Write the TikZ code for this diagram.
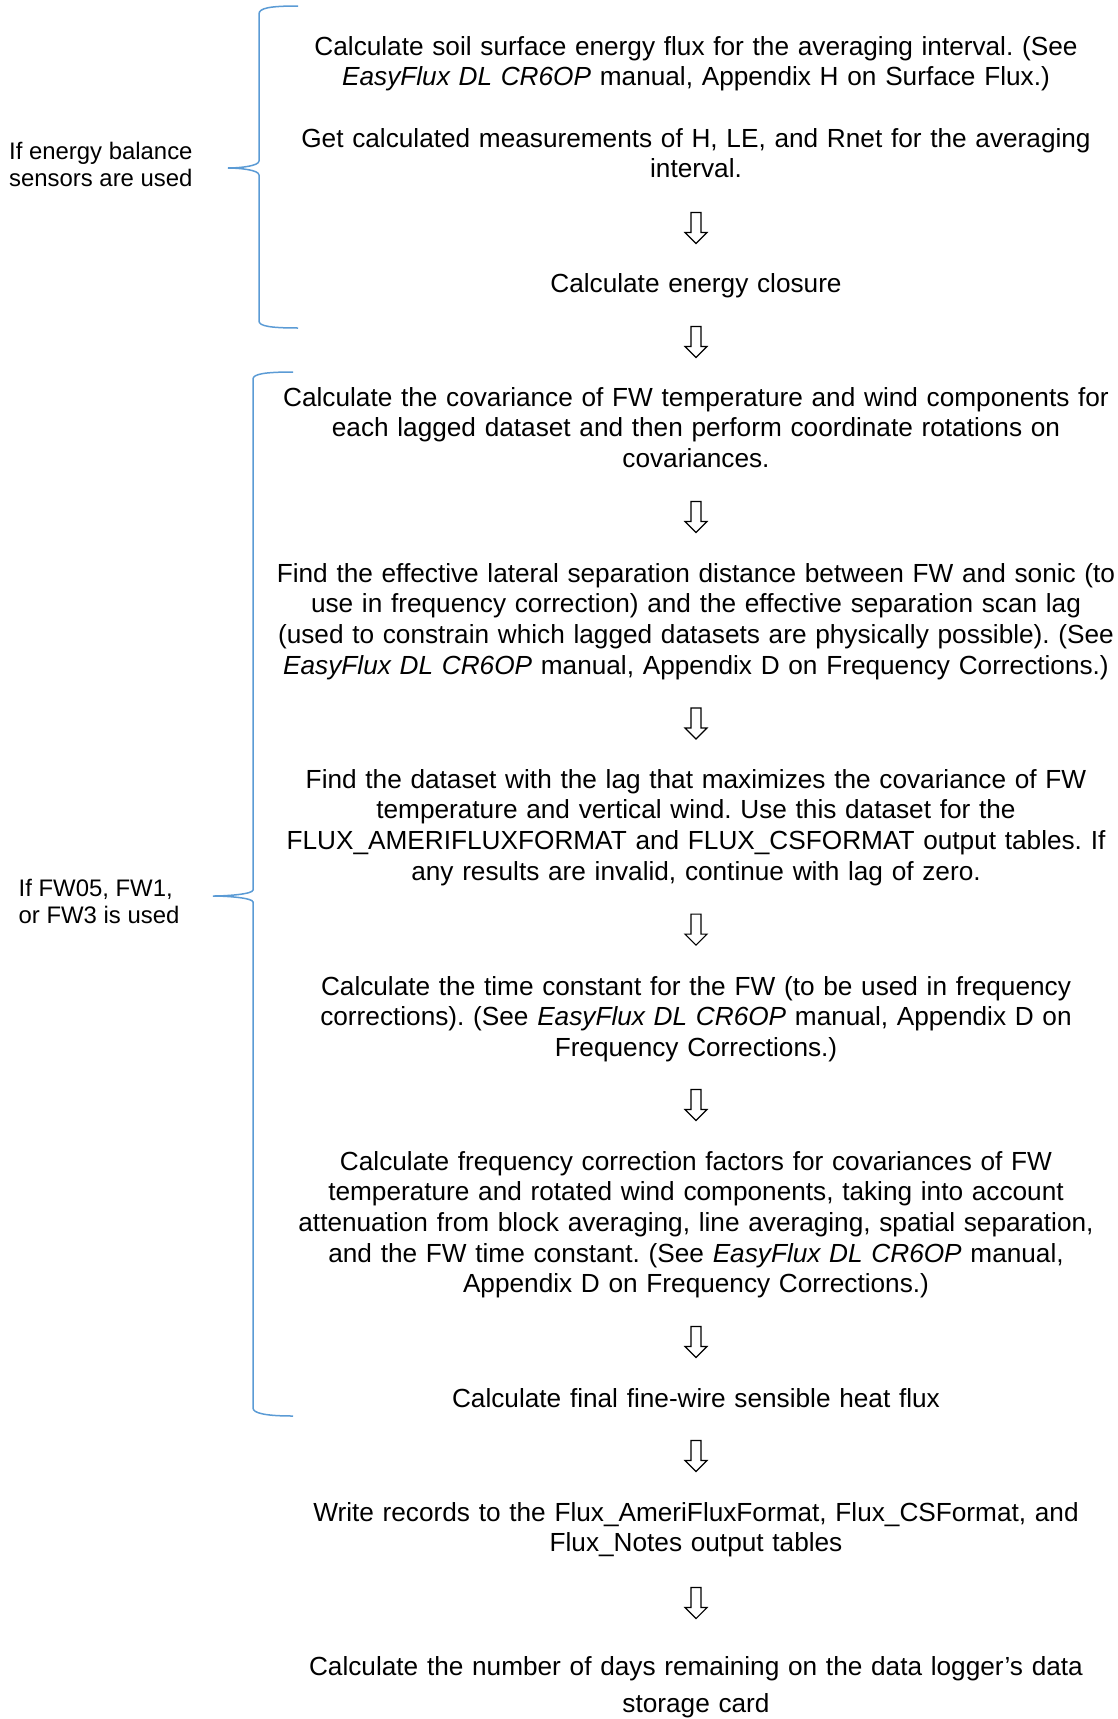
\documentclass[tikz,border=0pt]{standalone}
\usepackage{fontspec}
\setmainfont{Liberation Sans}
\definecolor{braceblue}{RGB}{91,155,213}
\begin{document}
\frenchspacing
\begin{tikzpicture}[x=1pt,y=-1pt,
  stepbox/.style={anchor=base,inner sep=0pt,text width=900pt,align=center,
    font=\frenchspacing\fontsize{26.2}{30.7}\selectfont},
  sidelabel/.style={anchor=base west,inner sep=0pt,align=left,
    font=\fontsize{23.9}{26.8}\selectfont},
  bracepath/.style={draw=braceblue,line width=1.5pt},
  darrow/.pic={\draw[line width=1.1pt,line join=miter]
     (-5,-15.5) -- (5,-15.5) -- (5,4.5) -- (11,4.5) -- (0,15.5) -- (-11,4.5) -- (-5,4.5) -- cycle;}
]
\useasboundingbox (0,0) rectangle (1117,1719);

\node[stepbox] (b1) at (696,55) {Calculate soil surface energy flux for the averaging interval. (See\\ \textit{EasyFlux DL CR6OP} manual, Appendix H on Surface Flux.)};
\node[stepbox] (b2) at (696,147) {Get calculated measurements of H, LE, and Rnet for the averaging\\ interval.};
\node[stepbox] (b3) at (696,292) {Calculate energy closure};
\node[stepbox] (b4) at (696,406) {Calculate the covariance of FW temperature and wind components for\\ each lagged dataset and then perform coordinate rotations on\\ covariances.};
\node[stepbox] (b5) at (696,582) {Find the effective lateral separation distance between FW and sonic (to\\ use in frequency correction) and the effective separation scan lag\\ (used to constrain which lagged datasets are physically possible). (See\\ \textit{EasyFlux DL CR6OP} manual, Appendix D on Frequency Corrections.)};
\node[stepbox] (b6) at (696,788) {Find the dataset with the lag that maximizes the covariance of FW\\ temperature and vertical wind. Use this dataset for the\\ FLUX\_AMERIFLUXFORMAT and FLUX\_CSFORMAT output tables. If\\ any results are invalid, continue with lag of zero.};
\node[stepbox] (b7) at (696,995) {Calculate the time constant for the FW (to be used in frequency\\ corrections). (See \textit{EasyFlux DL CR6OP} manual, Appendix D on\\ Frequency Corrections.)};
\node[stepbox] (b8) at (696,1170) {Calculate frequency correction factors for covariances of FW\\ temperature and rotated wind components, taking into account\\ attenuation from block averaging, line averaging, spatial separation,\\ and the FW time constant. (See \textit{EasyFlux DL CR6OP} manual,\\ Appendix D on Frequency Corrections.)};
\node[stepbox] (b9) at (696,1407) {Calculate final fine-wire sensible heat flux};
\node[stepbox] (b10) at (696,1521) {Write records to the Flux\_AmeriFluxFormat, Flux\_CSFormat, and\\ Flux\_Notes output tables};
\node[stepbox,font=\frenchspacing\fontsize{26.2}{37.3}\selectfont] (b11) at (696,1675) {Calculate the number of days remaining on the data logger’s data\\ storage card};

\pic at (696,228) {darrow};
\pic at (696,342) {darrow};
\pic at (696,517) {darrow};
\pic at (696,723.5) {darrow};
\pic at (696,929.6) {darrow};
\pic at (696,1105) {darrow};
\pic at (696,1342) {darrow};
\pic at (696,1456) {darrow};
\pic at (696,1603) {darrow};

\node[sidelabel] (l1) at (9,186) {If energy balance\\sensors are used};
\node[sidelabel] (l2) at (18.5,923) {If FW05, FW1,\\or FW3 is used};

\path[bracepath] (298,6) .. controls (270,6) and (259,8) .. (259,14) -- (259,161)
  .. controls (259,166) and (240,168) .. (228,168)
  .. controls (240,168) and (259,170) .. (259,175) -- (259,321)
  .. controls (259,326) and (270,328) .. (298,328);
\path[bracepath] (293,372) .. controls (265,372) and (253,374) .. (253,379) -- (253,890)
  .. controls (253,894) and (228,896) .. (213,896)
  .. controls (228,896) and (253,898) .. (253,902) -- (253,1408)
  .. controls (253,1413) and (265,1416) .. (293,1416);
\end{tikzpicture}
\end{document}
